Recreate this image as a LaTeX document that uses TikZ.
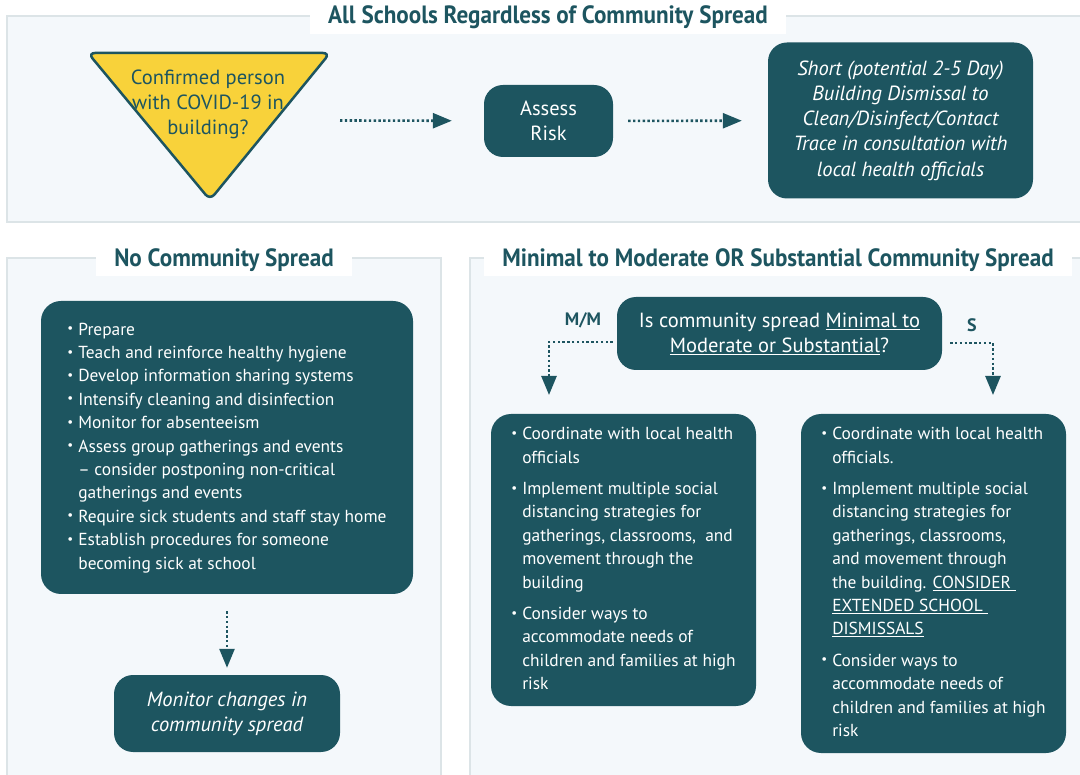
\documentclass[tikz,border=0pt]{standalone}
\usepackage{fontspec}
\setmainfont{PT Sans}
\usetikzlibrary{arrows.meta,positioning}

\definecolor{darkteal}{HTML}{1D5560}
\definecolor{panelbg}{HTML}{F4F8FB}
\definecolor{panelline}{HTML}{DCE4E7}
\definecolor{warnyellow}{HTML}{F8D23A}

\newcommand\dotbul{\raisebox{0.14em}{\fontsize{13}{13}\selectfont\textbullet}}
\newcommand\headtext[1]{\scalebox{0.925}[1]{#1}}

\tikzset{
  panel/.style={draw=panelline, line width=2.5pt, fill=panelbg},
  heading/.style={fill=white, text=darkteal, inner xsep=18pt, inner ysep=5pt,
    font=\fontsize{25}{27}\selectfont\bfseries},
  tealbox/.style={fill=darkteal, text=white, rounded corners=19pt, align=center,
    inner sep=0pt, font=\fontsize{20.5}{25}\selectfont},
  listbox/.style={fill=darkteal, text=white, rounded corners=20pt, inner sep=0pt,
    font=\fontsize{17.4}{23.4}\selectfont},
  warnsign/.style={fill=warnyellow, draw=darkteal, line width=2.5pt, rounded corners=7pt},
  branchlabel/.style={text=darkteal, font=\fontsize{18}{20}\selectfont\bfseries},
  dotarrow/.style={draw=darkteal, line width=2.6pt, dash pattern=on 2.4pt off 2.4pt,
    -{Triangle[length=19pt,width=15pt]}},
}

\begin{document}
\begin{tikzpicture}[x=1pt,y=-1pt]
  \useasboundingbox (0,0) rectangle (1080,775);
  \clip (0,0) rectangle (1080,775);
  \fill[white] (0,0) rectangle (1080,775);

  %%% panels
  \draw[panel] (7,16) rectangle (1095,222);
  \draw[panel] (7,258) rectangle (441,795);
  \draw[panel] (470,258) rectangle (1095,795);

  \node[heading] (allhead) at (548,17) {\headtext{All Schools Regardless of Community Spread}};
  \node[heading] (nohead) at (224,260) {\headtext{No Community Spread}};
  \node[heading] (spreadhead) at (778,260) {\headtext{Minimal to Moderate OR Substantial Community Spread}};

  %%% top row
  \draw[warnsign] (88,53) -- (330,53) -- (210,200) -- cycle;
  \node[text=darkteal, align=center, font=\fontsize{20.5}{25}\selectfont] (confirm) at (208,104)
    {Confirmed person\\with COVID-19 in\\building?};
  \coordinate (confirmout) at (340,120.5);

  \node[tealbox, minimum width=129pt, minimum height=72pt] (assess) at (548.5,121) {Assess\\Risk};
  \node[tealbox, minimum width=265pt, minimum height=156pt,
    font=\fontsize{20.5}{25.2}\selectfont\itshape] (dismiss) at (900.5,120.5)
    {Short (potential 2-5 Day)\\Building Dismissal to\\Clean/Disinfect/Contact\\Trace in consultation with\\local health officials};

  \draw[dotarrow, shorten >=32pt] (confirmout) -- (assess);
  \draw[dotarrow, shorten <=15pt, shorten >=26pt] (assess) -- (dismiss);

  %%% no community spread
  \node[listbox, minimum width=372pt, minimum height=293pt] (prepbox) at (227,447.5) {%
    \begin{tabular}{@{}l@{\hspace{5pt}}l@{}}
      \dotbul & Prepare\\
      \dotbul & Teach and reinforce healthy hygiene\\
      \dotbul & Develop information sharing systems\\
      \dotbul & Intensify cleaning and disinfection\\
      \dotbul & Monitor for absenteeism\\
      \dotbul & Assess group gatherings and events\\
              & -- consider postponing non-critical\\
              & gatherings and events\\
      \dotbul & Require sick students and staff stay home\\
      \dotbul & Establish procedures for someone\\
              & becoming sick at school
    \end{tabular}};
  \node[tealbox, minimum width=226pt, minimum height=77pt,
    font=\fontsize{20.5}{25}\selectfont\itshape] (monitor) at (227,713.5)
    {Monitor changes in\\community spread};
  \draw[dotarrow, shorten <=17pt, shorten >=7pt] (prepbox) -- (monitor);

  %%% minimal/moderate or substantial
  \node[tealbox, minimum width=325pt, minimum height=73pt] (spreadq) at (779.5,333.5)
    {Is community spread \underline{Minimal to}\\\underline{Moderate or Substantial}?};
  \node[branchlabel] (mmlabel) at (583,320) {M/M};
  \node[branchlabel] (slabel) at (972,325) {S};
  \coordinate (mmin) at (549,395);
  \coordinate (sin) at (993,395);
  \draw[dotarrow] ([xshift=-4pt,yshift=-8.5pt]spreadq.west) -| (mmin);
  \draw[dotarrow] ([xshift=8pt,yshift=-9.5pt]spreadq.east) -| (sin);

  \node[listbox, minimum width=265pt, minimum height=292pt] (mmbox) at (623.5,560) {%
    \begin{tabular}{@{}l@{\hspace{5pt}}l@{}}
      \dotbul & Coordinate with local health\\
              & officials\\[8pt]
      \dotbul & Implement multiple social\\
              & distancing strategies for\\
              & gatherings, classrooms,\ \ and\\
              & movement through the\\
              & building\\[8pt]
      \dotbul & Consider ways to\\
              & accommodate needs of\\
              & children and families at high\\
              & risk
    \end{tabular}};
  \node[listbox, minimum width=265pt, minimum height=339pt] (sbox) at (933.5,583.5) {%
    \begin{tabular}{@{}l@{\hspace{5pt}}l@{}}
      \dotbul & Coordinate with local health\\
              & officials.\\[8pt]
      \dotbul & Implement multiple social\\
              & distancing strategies for\\
              & gatherings, classrooms,\\
              & and movement through\\
              & the building. \underline{CONSIDER\ }\\
              & \underline{EXTENDED SCHOOL\ }\\
              & \underline{DISMISSALS}\\[8pt]
      \dotbul & Consider ways to\\
              & accommodate needs of\\
              & children and families at high\\
              & risk
    \end{tabular}};
\end{tikzpicture}
\end{document}
